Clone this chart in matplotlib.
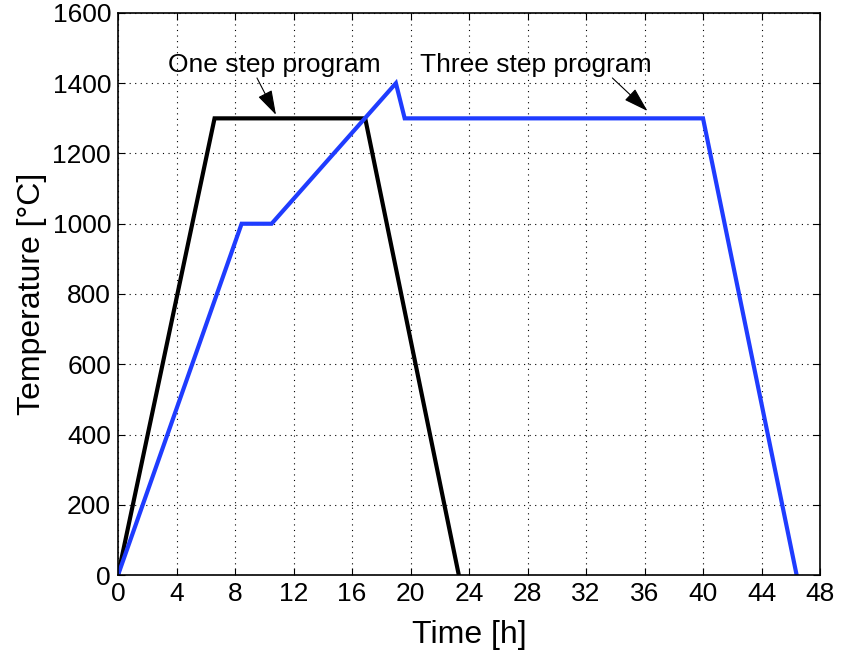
import matplotlib.pyplot as plt

plt.rcParams['font.family'] = ['Liberation Sans', 'DejaVu Sans']

# one step firing program
one_t = [0, 6.6, 16.9, 23.3]
one_T = [0, 1300, 1300, 0]

# three step firing program
three_t = [0, 8.45, 10.5, 19.0, 19.6, 40.0, 46.4]
three_T = [0, 1000, 1000, 1400, 1300, 1300, 0]

x_ticks = list(range(0, 49, 4))
y_ticks = list(range(0, 1601, 200))

fig = plt.figure(figsize=(8.51, 6.62), dpi=100)
ax = fig.add_axes([0.1387, 0.1314, 0.8249, 0.849])

ax.plot(one_t, one_T, color='black', lw=3, solid_joinstyle='miter')
ax.plot(three_t, three_T, color='#1f3cff', lw=3, solid_joinstyle='miter')

ax.set_xlim(0, 48)
ax.set_ylim(0, 1600)
ax.set_xticks(x_ticks)
ax.set_yticks(y_ticks)
ax.grid(True, color='black', linestyle=(0, (1, 4)), lw=0.8)
ax.tick_params(direction='in', top=True, right=True, labelsize=19, length=5, width=0.8, pad=5)
for s in ax.spines.values():
    s.set_linewidth(1.2)

ax.set_xlabel('Time [h]', fontsize=23, labelpad=10)
ax.set_ylabel('Temperature [°C]', fontsize=23, labelpad=4)

# text labels and their arrows
arrow = dict(arrowstyle='-|>,head_length=0.55,head_width=0.17', lw=0.8, color='black',
             mutation_scale=28, shrinkA=0, shrinkB=0)
ax.text(10.67, 1432, 'One step program', fontsize=19, ha='center', va='baseline')
ax.annotate('', xy=(10.8, 1310), xytext=(9.5, 1415), arrowprops=arrow)
ax.text(28.6, 1432, 'Three step program', fontsize=19, ha='center', va='baseline')
ax.annotate('', xy=(36.2, 1321), xytext=(33.8, 1415), arrowprops=arrow)

fig.savefig('out.png', dpi=100)
